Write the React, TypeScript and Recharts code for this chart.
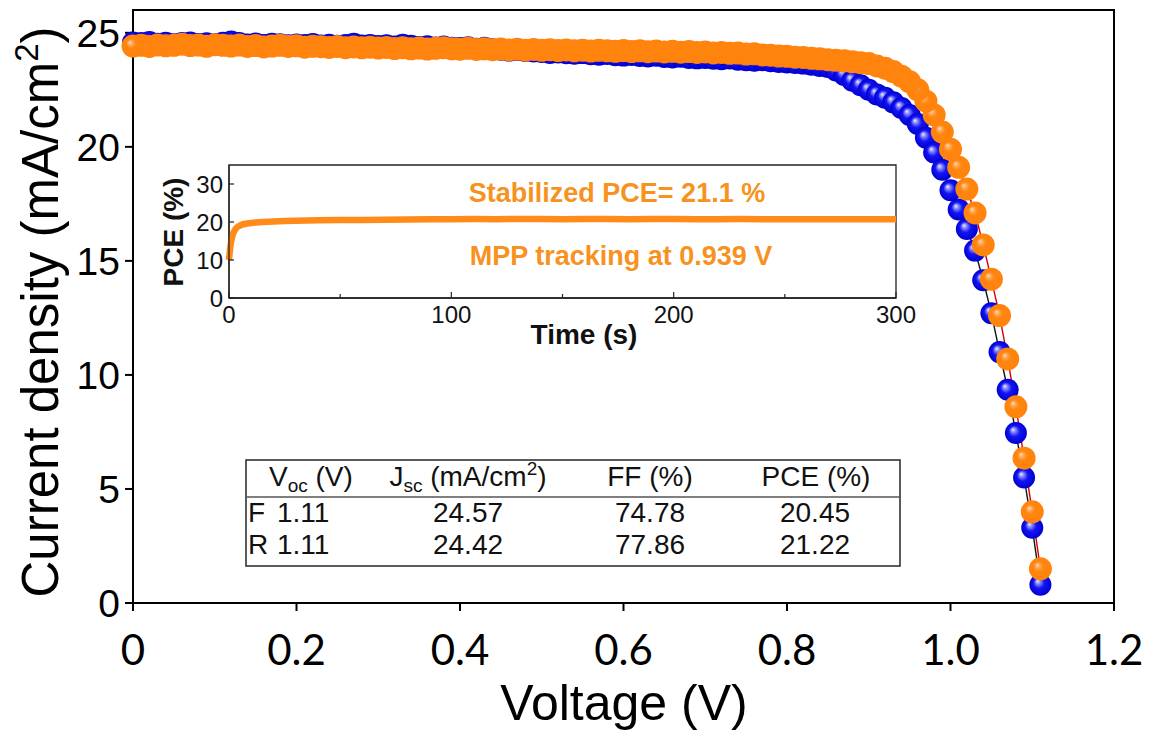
import React from "react"
import { ComposedChart, LineChart, Scatter, Line, XAxis, YAxis, ReferenceArea } from "recharts"

// J-V sweep: voltage (V) and current density (mA/cm2), forward (F) and reverse (R) scans
const voltage = [
  0.00, 0.01, 0.02, 0.03, 0.04, 0.05, 0.06, 0.07, 0.08, 0.09,
  0.10, 0.11, 0.12, 0.13, 0.14, 0.15, 0.16, 0.17, 0.18, 0.19,
  0.20, 0.21, 0.22, 0.23, 0.24, 0.25, 0.26, 0.27, 0.28, 0.29,
  0.30, 0.31, 0.32, 0.33, 0.34, 0.35, 0.36, 0.37, 0.38, 0.39,
  0.40, 0.41, 0.42, 0.43, 0.44, 0.45, 0.46, 0.47, 0.48, 0.49,
  0.50, 0.51, 0.52, 0.53, 0.54, 0.55, 0.56, 0.57, 0.58, 0.59,
  0.60, 0.61, 0.62, 0.63, 0.64, 0.65, 0.66, 0.67, 0.68, 0.69,
  0.70, 0.71, 0.72, 0.73, 0.74, 0.75, 0.76, 0.77, 0.78, 0.79,
  0.80, 0.81, 0.82, 0.83, 0.84, 0.85, 0.86, 0.87, 0.88, 0.89,
  0.90, 0.91, 0.92, 0.93, 0.94, 0.95, 0.96, 0.97, 0.98, 0.99,
  1.00, 1.01, 1.02, 1.03, 1.04, 1.05, 1.06, 1.07, 1.08, 1.09, 1.10, 1.11,
]

const jForward = [
  24.57, 24.55, 24.60, 24.52, 24.56, 24.50, 24.55, 24.58, 24.51, 24.54,
  24.50, 24.56, 24.62, 24.55, 24.49, 24.53, 24.47, 24.52, 24.50, 24.45,
  24.49, 24.46, 24.51, 24.44, 24.48, 24.43, 24.47, 24.52, 24.44, 24.46,
  24.42, 24.45, 24.40, 24.48, 24.43, 24.38, 24.41, 24.36, 24.40, 24.35,
  24.33, 24.37, 24.30, 24.34, 24.28, 24.26, 24.22, 24.25, 24.20, 24.18,
  24.16, 24.12, 24.14, 24.10, 24.08, 24.11, 24.06, 24.04, 24.07, 24.02,
  24.00, 24.03, 23.98, 23.96, 23.99, 23.94, 23.92, 23.95, 23.90, 23.88,
  23.90, 23.86, 23.84, 23.87, 23.82, 23.80, 23.78, 23.80, 23.75, 23.72,
  23.70, 23.68, 23.65, 23.60, 23.55, 23.50, 23.35, 23.15, 22.90, 22.70,
  22.50, 22.30, 22.15, 21.95, 21.70, 21.40, 21.00, 20.40, 19.75, 19.00,
  18.10, 17.25, 16.40, 15.45, 14.15, 12.70, 11.00, 9.35, 7.45, 5.50, 3.30, 0.80,
]

const jReverse = [
  24.42, 24.45, 24.40, 24.47, 24.43, 24.45, 24.50, 24.44, 24.46, 24.41,
  24.48, 24.45, 24.42, 24.46, 24.40, 24.44, 24.38, 24.42, 24.45, 24.40,
  24.43, 24.37, 24.41, 24.39, 24.36, 24.40, 24.35, 24.38, 24.34, 24.37,
  24.33, 24.36, 24.31, 24.35, 24.30, 24.33, 24.29, 24.32, 24.35, 24.30,
  24.28, 24.32, 24.27, 24.30, 24.26, 24.29, 24.25, 24.28, 24.24, 24.27,
  24.23, 24.26, 24.22, 24.25, 24.21, 24.24, 24.20, 24.23, 24.21, 24.19,
  24.22, 24.18, 24.21, 24.17, 24.20, 24.16, 24.19, 24.15, 24.18, 24.14,
  24.16, 24.12, 24.14, 24.10, 24.11, 24.07, 24.08, 24.03, 24.02, 23.98,
  23.97, 23.93, 23.92, 23.88, 23.86, 23.82, 23.80, 23.77, 23.73, 23.69,
  23.65, 23.55, 23.45, 23.30, 23.10, 22.85, 22.50, 22.00, 21.40, 20.65,
  19.90, 19.10, 18.15, 17.10, 15.70, 14.20, 12.60, 10.70, 8.60, 6.35, 4.00, 1.50,
]

const voltageTicks = [0, 0.2, 0.4, 0.6, 0.8, 1.0, 1.2]
const voltageTickLabels = ["0", "0.2", "0.4", "0.6", "0.8", "1.0", "1.2"]
const currentTicks = [0, 5, 10, 15, 20, 25]

// inset: MPP tracking
const trackTime = [
  0, 0.5, 1, 1.5, 2, 3, 4, 5, 6, 8, 10, 12, 15, 20, 25, 30, 40, 50, 60, 70,
  80, 90, 100, 110, 120, 130, 140, 150, 160, 170, 180, 190, 200, 210, 220,
  230, 240, 250, 260, 270, 280, 290, 300,
]
const trackPce = [
  10.0, 13.0, 15.0, 16.3, 17.2, 18.2, 18.8, 19.1, 19.35, 19.6, 19.75, 19.85, 20.0, 20.15, 20.25, 20.35, 20.45, 20.5, 20.55, 20.6,
  20.65, 20.7, 20.75, 20.8, 20.75, 20.8, 20.8, 20.75, 20.8, 20.8, 20.75, 20.8, 20.8, 20.75, 20.75,
  20.8, 20.75, 20.7, 20.75, 20.7, 20.75, 20.7, 20.7,
]
const timeTicks = [0, 50, 100, 150, 200, 250, 300]
const timeTickLabels = ["0", "", "100", "", "200", "", "300"]
const pceTicks = [0, 10, 20, 30]

// table
const scanLabels = ["F", "R"]
const vocValues = ["1.11", "1.11"]
const jscValues = ["24.57", "24.42"]
const ffValues = ["74.78", "77.86"]
const pceValues = ["20.45", "21.22"]

const W = 1151
const H = 735
const ARIAL = "Arial, 'Liberation Sans', sans-serif"
const CALIBRI = "Lato, 'Open Sans', sans-serif"
const ORANGE_TEXT = "#F7921E"

const jvData = voltage.map((v, i) => ({ v, f: jForward[i], r: jReverse[i] }))
// reverse scan runs from Voc down to 0 V, so its markers are stacked in that order
const reverseScanOrder = jvData.slice().reverse()
const trackData = trackTime.map((t, i) => ({ t, pce: trackPce[i] }))

const blueBall = (p: any) => <circle cx={p.cx} cy={p.cy} r={11} fill="url(#ballBlue)" />
const orangeBall = (p: any) => <circle cx={p.cx} cy={p.cy} r={11.5} fill="url(#ballOrange)" />

const InsetXTick = (props: any) => {
  const { x, y, payload } = props
  const label = timeTickLabels[timeTicks.indexOf(payload.value)]
  return (
    <g>
      <line x1={x} x2={x} y1={y} y2={y - (label ? 6 : 4)} stroke="#222" strokeWidth={1.2} />
      {label ? (
        <text x={x} y={y + 25} textAnchor="middle" fontSize={24} fontFamily={ARIAL} fill="#111">
          {label}
        </text>
      ) : null}
    </g>
  )
}

const InsetYTick = (props: any) => {
  const { x, y, payload } = props
  return (
    <g>
      <line x1={x} x2={x + 5} y1={y} y2={y} stroke="#222" strokeWidth={1.2} />
      <text x={x - 6} y={y} dy="0.36em" textAnchor="end" fontSize={24} fontFamily={ARIAL} fill="#111">
        {payload.value}
      </text>
    </g>
  )
}

export default function App() {
  return (
    <div style={{ position: "absolute", left: 0, top: 0, width: W, height: H, background: "#fff" }}>
      <div style={{ position: "absolute", left: 0, top: 0 }}>
        <ComposedChart width={W} height={H} data={jvData} margin={{ top: 10, right: 37, bottom: 72, left: 53 }}>
          <defs>
            <radialGradient id="ballBlue" cx="50%" cy="50%" r="50%" fx="36%" fy="33%">
              <stop offset="0%" stopColor="#f0f2ff" />
              <stop offset="20%" stopColor="#8a8cff" />
              <stop offset="50%" stopColor="#1414f4" />
              <stop offset="100%" stopColor="#0000d0" />
            </radialGradient>
            <radialGradient id="ballOrange" cx="50%" cy="50%" r="50%" fx="36%" fy="33%">
              <stop offset="0%" stopColor="#ffe2bc" />
              <stop offset="18%" stopColor="#ffac5c" />
              <stop offset="42%" stopColor="#ff8610" />
              <stop offset="100%" stopColor="#ff820c" />
            </radialGradient>
          </defs>
          <XAxis
            dataKey="v"
            type="number"
            domain={[0, 1.2]}
            ticks={voltageTicks}
            interval={0}
            tickFormatter={(v) => voltageTickLabels[voltageTicks.indexOf(v)] ?? String(v)}
            height={60}
            tickSize={8}
            tickMargin={24}
            stroke="#000"
            strokeWidth={2}
            tick={{ fontSize: 42, fontFamily: CALIBRI, fill: "#000" }}
          />
          <YAxis
            type="number"
            domain={[0, 26]}
            ticks={currentTicks}
            interval={0}
            width={80}
            tickSize={8}
            tickMargin={5}
            stroke="#000"
            strokeWidth={2}
            tick={{ fontSize: 39, fontFamily: ARIAL, fill: "#000" }}
          />
          <ReferenceArea x1={0} x2={1.2} y1={0} y2={26} fill="none" stroke="#000" strokeWidth={2} />
          <Line dataKey="f" type="linear" stroke="#111" strokeWidth={1.4} dot={false} isAnimationActive={false} />
          <Line dataKey="r" type="linear" stroke="#d40000" strokeWidth={1.4} dot={false} isAnimationActive={false} />
          <Scatter dataKey="f" shape={blueBall} isAnimationActive={false} />
          <Scatter data={reverseScanOrder} dataKey="r" shape={orangeBall} isAnimationActive={false} />
        </ComposedChart>
      </div>

      <div style={{ position: "absolute", left: 0, top: 0 }}>
        <LineChart width={W} height={H} data={trackData} margin={{ top: 165, right: 255, bottom: 407, left: 169 }}>
          <XAxis
            dataKey="t"
            type="number"
            domain={[0, 300]}
            ticks={timeTicks}
            interval={0}
            height={30}
            tickSize={0}
            tickMargin={0}
            tickLine={false}
            stroke="#222"
            strokeWidth={1.3}
            tick={InsetXTick}
          />
          <YAxis
            type="number"
            domain={[0, 35]}
            ticks={pceTicks}
            interval={0}
            width={60}
            tickSize={0}
            tickMargin={0}
            tickLine={false}
            stroke="#222"
            strokeWidth={1.3}
            tick={InsetYTick}
          />
          <ReferenceArea x1={0} x2={300} y1={0} y2={35} fill="none" stroke="#222" strokeWidth={1.3} />
          <Line dataKey="pce" type="linear" stroke="#FF8C1A" strokeWidth={6.5} dot={false} isAnimationActive={false} />
        </LineChart>
      </div>

      <svg width={W} height={H} style={{ position: "absolute", left: 0, top: 0, pointerEvents: "none" }}>
        {/* main axis titles */}
        <text x={624} y={720} textAnchor="middle" fontSize={50} fontFamily={ARIAL} fill="#000">
          Voltage (V)
        </text>
        <text
          x={58}
          y={312}
          transform="rotate(-90 58 312)"
          textAnchor="middle"
          fontSize={51}
          fontFamily={ARIAL}
          fill="#000"
        >
          Current density (mA/cm<tspan dy={-20} fontSize={33}>2</tspan>
          <tspan dy={20}>)</tspan>
        </text>

        {/* inset labels */}
        <text x={584} y={344} textAnchor="middle" fontSize={28} fontWeight="bold" fontFamily={ARIAL} fill="#111">
          Time (s)
        </text>
        <text
          x={183}
          y={232}
          transform="rotate(-90 183 232)"
          textAnchor="middle"
          fontSize={28}
          fontWeight="bold"
          fontFamily={ARIAL}
          fill="#111"
        >
          PCE (%)
        </text>
        <text x={617} y={202} textAnchor="middle" fontSize={27} fontWeight="bold" fontFamily={ARIAL} fill={ORANGE_TEXT}>
          Stabilized PCE= 21.1 %
        </text>
        <text x={621} y={265} textAnchor="middle" fontSize={27} fontWeight="bold" fontFamily={ARIAL} fill={ORANGE_TEXT}>
          MPP tracking at 0.939 V
        </text>

        {/* parameter table */}
        <rect x={246} y={460} width={654} height={106} fill="#fff" stroke="#333" strokeWidth={1.6} />
        <line x1={246} x2={900} y1={497} y2={497} stroke="#555" strokeWidth={1.4} />
        <g fontFamily={ARIAL} fontSize={28} fill="#111">
          <text x={269} y={486}>
            V<tspan dy={6} fontSize={19}>oc</tspan>
            <tspan dy={-6}> (V)</tspan>
          </text>
          <text x={468} y={486} textAnchor="middle">
            J<tspan dy={6} fontSize={19}>sc</tspan>
            <tspan dy={-6}> (mA/cm</tspan>
            <tspan dy={-11} fontSize={19}>2</tspan>
            <tspan dy={11}>)</tspan>
          </text>
          <text x={650} y={486} textAnchor="middle">FF (%)</text>
          <text x={816} y={486} textAnchor="middle">PCE (%)</text>
          {scanLabels.map((s, i) => {
            const y = 522 + i * 31.5
            return (
              <g key={s}>
                <text x={248} y={y}>{s}</text>
                <text x={277} y={y}>{vocValues[i]}</text>
                <text x={468} y={y} textAnchor="middle">{jscValues[i]}</text>
                <text x={650} y={y} textAnchor="middle">{ffValues[i]}</text>
                <text x={815} y={y} textAnchor="middle">{pceValues[i]}</text>
              </g>
            )
          })}
        </g>
      </svg>
    </div>
  )
}
